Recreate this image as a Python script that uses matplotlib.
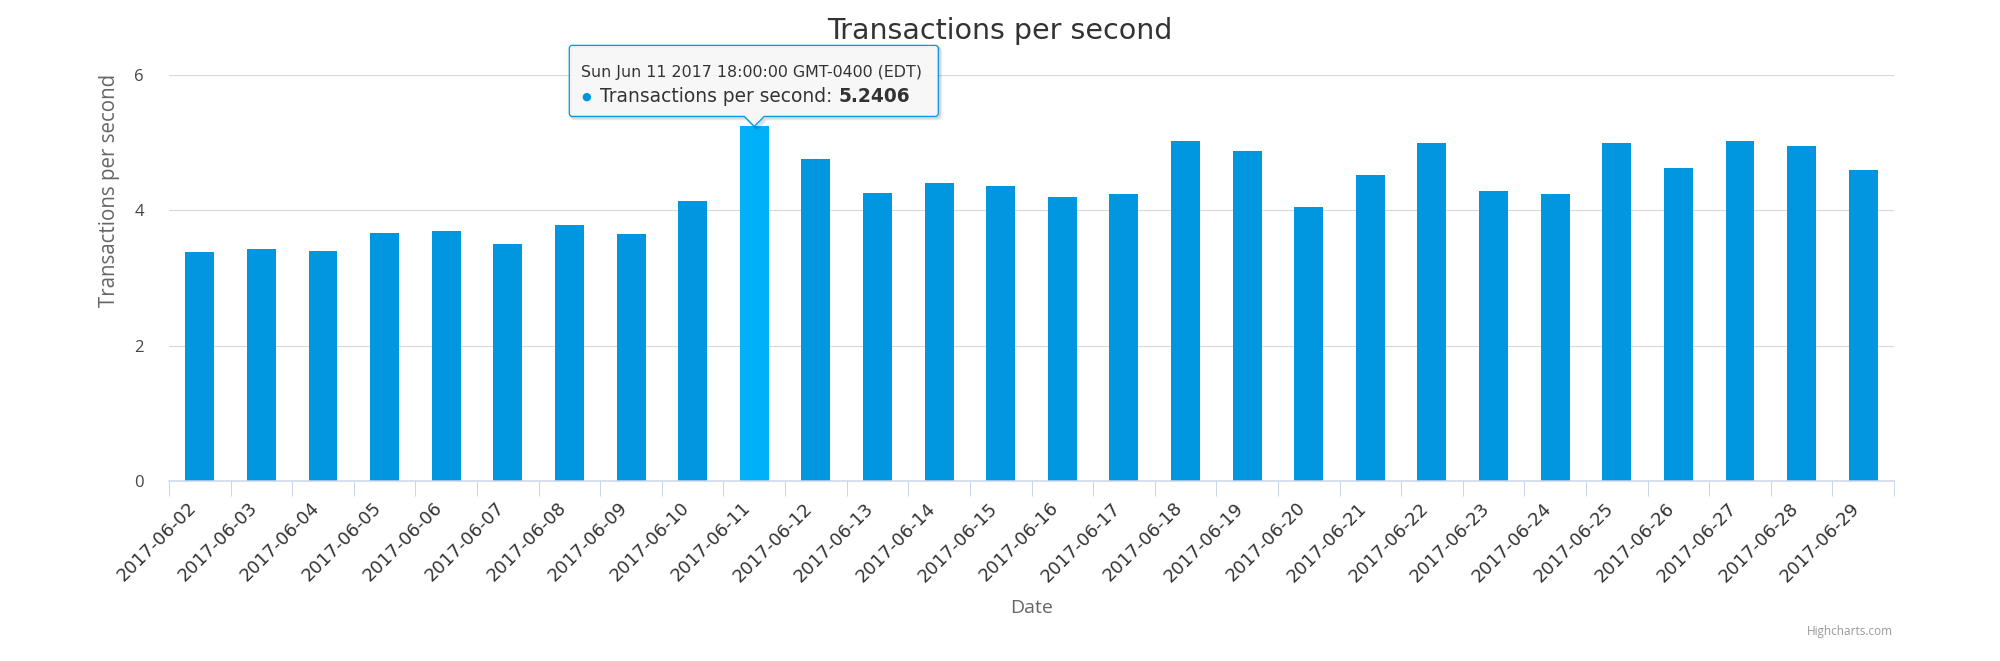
import matplotlib
matplotlib.use('Agg')
import matplotlib.pyplot as plt
import numpy as np
from matplotlib.path import Path
from matplotlib.patches import PathPatch
from matplotlib.transforms import IdentityTransform

dates = ['2017-06-02', '2017-06-03', '2017-06-04', '2017-06-05', '2017-06-06',
         '2017-06-07', '2017-06-08', '2017-06-09', '2017-06-10', '2017-06-11',
         '2017-06-12', '2017-06-13', '2017-06-14', '2017-06-15', '2017-06-16',
         '2017-06-17', '2017-06-18', '2017-06-19', '2017-06-20', '2017-06-21',
         '2017-06-22', '2017-06-23', '2017-06-24', '2017-06-25', '2017-06-26',
         '2017-06-27', '2017-06-28', '2017-06-29']
tps = [3.38, 3.43, 3.40, 3.67, 3.69, 3.50, 3.79, 3.65, 4.14, 5.2406,
       4.76, 4.26, 4.41, 4.36, 4.19, 4.24, 5.03, 4.88, 4.05, 4.52,
       5.00, 4.29, 4.24, 5.00, 4.62, 5.03, 4.95, 4.60]
yticks = [0, 2, 4, 6]
hovered = '2017-06-11'
tooltip_date = 'Sun Jun 11 2017 18:00:00 GMT-0400 (EDT)'
series_name = 'Transactions per second'

bar_col = '#0097e0'
hover_col = '#00b0f9'

W, H = 2000, 661
fig = plt.figure(figsize=(W / 100, H / 100), dpi=100)
ax = fig.add_axes([169 / W, (H - 481) / H, (1894 - 169) / W, (481 - 75) / H])

x = np.arange(len(dates))
cols = [hover_col if d == hovered else bar_col for d in dates]
ax.bar(x, tps, width=0.47, color=cols, zorder=2)

ax.set_xlim(-0.5, len(dates) - 0.5)
ax.set_ylim(0, 6)
ax.set_yticks(yticks)
ax.set_yticklabels([str(t) for t in yticks], fontfamily='Open Sans', fontsize=12, color='#444444')
ax.tick_params(axis='y', length=0, pad=18)
ax.grid(axis='y', color='#d8d8d8', linewidth=0.8, zorder=0)
ax.set_axisbelow(True)

for s in ['top', 'right', 'left']:
    ax.spines[s].set_visible(False)
ax.spines['bottom'].set_color('#ccd6eb')
ax.spines['bottom'].set_linewidth(1.1)
ax.spines['bottom'].set_zorder(3)

ax.set_xticks(x)
ax.set_xticks(np.arange(-0.5, len(dates), 1), minor=True)
ax.set_xticklabels(dates, rotation=45, ha='right', fontfamily='DejaVu Sans', fontsize=13, color='#333333')
ax.tick_params(axis='x', which='major', length=0, pad=13)
ax.tick_params(axis='x', which='minor', length=10.8, width=0.75, color='#ccd6eb')

fig.text(0.5, 1 - 39 / H, 'Transactions per second', ha='center', va='baseline',
         fontfamily='DejaVu Sans', fontsize=20.5, color='#333333')
fig.text(109 / W, 1 - 74 / H, 'Transactions per second', rotation=90, ha='center', va='top',
         fontfamily='Open Sans', fontsize=14.8, color='#666666')
fig.text(1031.5 / W, 1 - 608 / H, 'Date', ha='center', va='center',
         fontfamily='Open Sans', fontsize=14, color='#666666')
fig.text(1893 / W, 1 - 632 / H, 'Highcharts.com', ha='right', va='center',
         fontfamily='Open Sans', fontsize=8.5, color='#999999')

# tooltip anchored on the hovered bar
i = dates.index(hovered)
tx, ty = ax.transData.transform((x[i], tps[i]))
left, right = tx - 185, tx + 184
top, bottom = ty + 81, ty + 10
r, aw = 3, 10
verts = [(left + r, top), (right - r, top), (right, top), (right, top - r),
         (right, bottom + r), (right, bottom), (right - r, bottom),
         (tx + aw, bottom), (tx, ty), (tx - aw, bottom),
         (left + r, bottom), (left, bottom), (left, bottom + r),
         (left, top - r), (left, top), (left + r, top), (0, 0)]
codes = [Path.MOVETO, Path.LINETO, Path.CURVE3, Path.CURVE3,
         Path.LINETO, Path.CURVE3, Path.CURVE3,
         Path.LINETO, Path.LINETO, Path.LINETO,
         Path.LINETO, Path.CURVE3, Path.CURVE3,
         Path.LINETO, Path.CURVE3, Path.CURVE3, Path.CLOSEPOLY]
for k, a in [(3, 0.05), (2, 0.08), (1, 0.12)]:
    sv = [(vx + k, vy - k) for vx, vy in verts]
    fig.add_artist(PathPatch(Path(sv, codes), transform=IdentityTransform(),
                             facecolor='none', edgecolor='black', alpha=a, linewidth=1.5, zorder=9))
fig.add_artist(PathPatch(Path(verts, codes), transform=IdentityTransform(),
                         facecolor=(0.97, 0.97, 0.97, 0.9), edgecolor=bar_col, linewidth=0.9, zorder=10))

fig.text(tx - 173, ty + 49, tooltip_date, transform=IdentityTransform(), ha='left', va='baseline',
         fontfamily='DejaVu Sans', fontsize=11.4, color='#333333', zorder=11)
fig.text(tx - 168, ty + 30, '\u25CF', transform=IdentityTransform(), ha='center', va='center',
         fontfamily='DejaVu Sans', fontsize=8, color=bar_col, zorder=11)
t1 = fig.text(tx - 154, ty + 24, series_name + ': ', transform=IdentityTransform(), ha='left',
              va='baseline', fontfamily='DejaVu Sans', fontsize=13.4, color='#333333', zorder=11)
renderer = fig.canvas.get_renderer()
bb = t1.get_window_extent(renderer)
fig.text(bb.x1, ty + 24, '%.4f' % tps[i], transform=IdentityTransform(), ha='left', va='baseline',
         fontfamily='DejaVu Sans', fontsize=13.4, fontweight='bold', color='#333333', zorder=11)

fig.savefig('out.png', dpi=100)
